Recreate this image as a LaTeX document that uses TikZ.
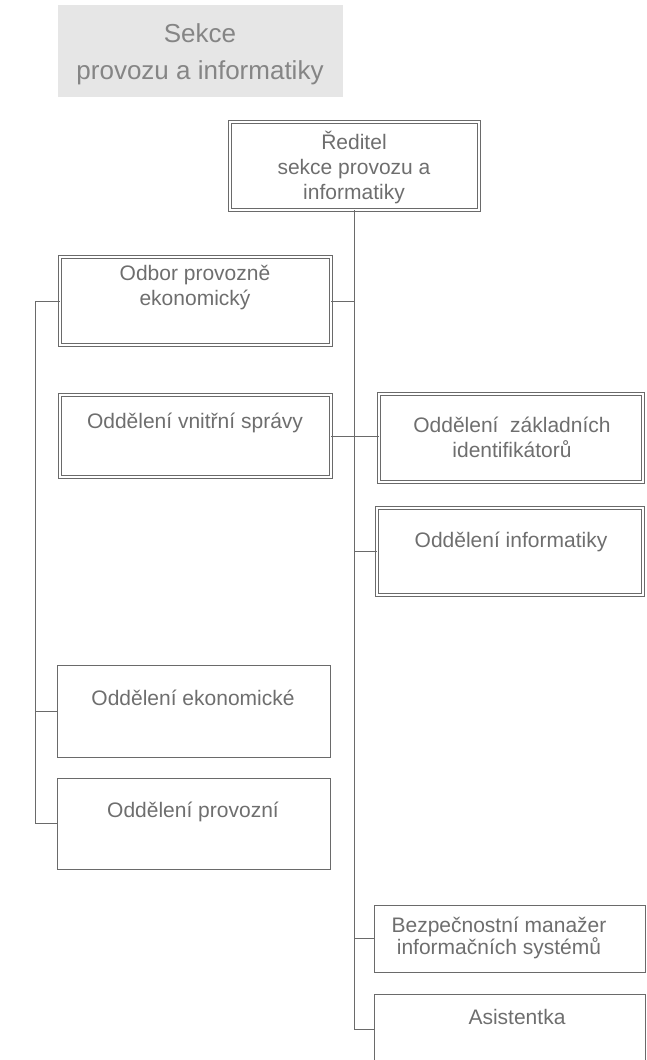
\documentclass[tikz,border=0pt]{standalone}
\usepackage{fontspec}
\setmainfont{Liberation Sans}
\usepackage{tikz}
\usetikzlibrary{positioning}
\definecolor{linegray}{HTML}{6A6A6A}
\definecolor{textgray}{HTML}{6E6E6E}
\definecolor{titlefill}{HTML}{E6E6E6}
\definecolor{titletext}{HTML}{858585}

\begin{document}
\begin{tikzpicture}[x=1pt, y=-1pt,
        box/.style={draw=linegray, line width=0.7pt, inner sep=0pt},
        dbox/.style={box, double, double distance=2.4pt},
        txt/.style={text=textgray, font=\fontsize{21}{25}\selectfont, align=center, inner sep=0pt},
        link/.style={draw=linegray, line width=0.7pt}]

                \useasboundingbox (0,0) rectangle (647,1060);
                \clip (0,0) rectangle (647,1060);

                % nadpis
                \node[fill=titlefill, minimum width=285pt, minimum height=92pt, inner sep=0pt] (sekce) at (200.5,51) {};
                \node[text=titletext, font=\fontsize{26}{37}\selectfont, align=center, inner sep=0pt] (sekceT) at (200,54) {Sekce\\provozu a informatiky};

                % ramecky
                \node[dbox, minimum width=249pt, minimum height=88pt] (reditel) at (354.5,166) {};
                \node[dbox, minimum width=271pt, minimum height=88pt] (odbor) at (195.5,301) {};
                \node[dbox, minimum width=271pt, minimum height=82pt] (vnitrni) at (195.5,436) {};
                \node[dbox, minimum width=264pt, minimum height=88pt] (zakladni) at (511,438) {};
                \node[dbox, minimum width=266pt, minimum height=87pt] (informatiky) at (510,551.5) {};
                \node[box, minimum width=273pt, minimum height=92pt] (ekonom) at (193.5,711) {};
                \node[box, minimum width=273pt, minimum height=91pt] (provozni) at (193.5,823.5) {};
                \node[box, minimum width=271pt, minimum height=67pt] (bezpec) at (509.5,938.5) {};
                \node[box, minimum width=271pt, minimum height=70pt] (asist) at (509.5,1029) {};

                % texty
                \node[txt] (reditelT) at (354,167) {Ředitel\\sekce provozu a\\informatiky};
                \node[txt] (odborT) at (195,288) {Odbor provozně\\ekonomický};
                \node[txt] (vnitrniT) at (195,423) {Oddělení vnitřní správy};
                \node[txt] (zakladniT) at (512,437) {Oddělení\ \ základních\\identifikátorů};
                \node[txt] (informatikyT) at (511,542) {Oddělení informatiky};
                \node[txt] (ekonomT) at (193,698) {Oddělení ekonomické};
                \node[txt] (provozniT) at (193,812) {Oddělení provozní};
                \node[txt, font=\fontsize{21}{21}\selectfont] (bezpecT) at (499,938) {Bezpečnostní manažer\\informačních systémů};
                \node[txt] (asistT) at (517,1017) {Asistentka};

                % spoje
                \coordinate (lbus) at (35,301);
                \draw[link] (reditel.south) |- (asist.west);
                \draw[link] (odbor.east) -- (odbor.east -| reditel.south);
                \draw[link] (vnitrni.east) -- (vnitrni.east -| zakladni.west);
                \foreach \b in {informatiky, bezpec} {
                        \draw[link] (\b.west -| reditel.south) -- (\b.west);
                    }
                \draw[link] (odbor.west) -- (odbor.west -| lbus) |- (provozni.west);
                \foreach \b in {ekonom} {
                        \draw[link] (\b.west -| lbus) -- (\b.west);
                    }

            \end{tikzpicture}
\end{document}
